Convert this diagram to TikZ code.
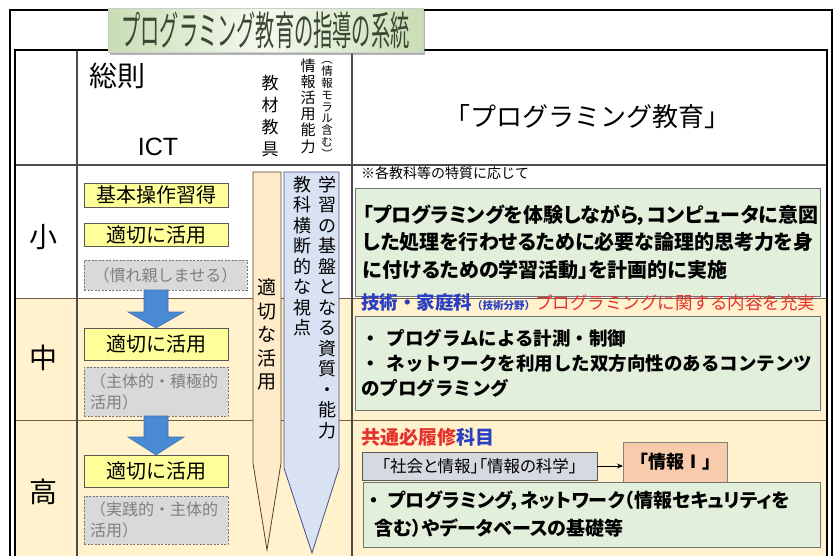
\documentclass[tikz,border=0pt]{standalone}
\usepackage{fontspec}
\setmainfont{Noto Sans CJK JP}
\newfontfamily\latinfont{Liberation Sans}
\newfontfamily\titlefont[FakeStretch=0.48]{Noto Sans CJK JP}
\newfontfamily\paltfont[RawFeature=+palt]{Noto Sans CJK JP}
\usetikzlibrary{shadows,calc,arrows.meta}
\definecolor{beige}{HTML}{FFF2CC}
\definecolor{ylw}{HTML}{FFFF99}
\definecolor{gfill}{HTML}{D9D9D9}
\definecolor{gtext}{HTML}{7F7F7F}
\definecolor{arrowblue}{HTML}{4A8AD4}
\definecolor{bannerbeige}{HTML}{FDEBC9}
\definecolor{bannerblue}{HTML}{D9E2F3}
\definecolor{grn}{HTML}{E2EFDA}
\definecolor{socgray}{HTML}{D6D9E0}
\definecolor{orng}{HTML}{F8CBAD}
\definecolor{kblue}{HTML}{2B3FC2}
\definecolor{kred}{HTML}{E5322D}
\definecolor{titletext}{HTML}{3A4733}
\definecolor{tgreen}{HTML}{C8DDB4}
\definecolor{tlight}{HTML}{F4F9EE}
\begin{document}
\begin{tikzpicture}[x=1pt,y=-1pt,
  every node/.style={inner sep=0pt,outer sep=0pt},
  vstack/.style={align=center,inner sep=0pt},
  frame/.style={draw=black,line width=2pt},
  hline/.style={draw=black!70,line width=1.1pt},
  rowline/.style={draw=black!45!brown!60!gray,line width=0.9pt},
  ybox/.style={draw=black!65,line width=0.8pt,fill=ylw,minimum width=144pt,font=\fontsize{20}{20}\selectfont},
  gbox/.style={draw=black!55,dash pattern=on 2pt off 1.5pt,line width=0.8pt,fill=gfill,text=gtext},
  grnbox/.style={draw=black!55,line width=0.8pt,fill=grn,align=left},
  bannerA/.style={draw=black!50!brown,line width=0.8pt,fill=bannerbeige},
  bannerB/.style={draw=black!50!blue!40!gray,line width=0.8pt,fill=bannerblue},
  blockarrow/.style={fill=arrowblue,draw=arrowblue!85!black,line width=0.6pt},
  socbox/.style={draw=black!65,line width=0.8pt,fill=socgray},
  orbox/.style={draw=black!50,line width=0.8pt,fill=orng},
  titlebox/.style={draw=black!20,line width=0.5pt,left color=tgreen,right color=tgreen,middle color=tlight,
     drop shadow={shadow xshift=2pt,shadow yshift=-2.5pt,opacity=0.6}},
  rowlabel/.style={font=\fontsize{28}{28}\selectfont}
]
\useasboundingbox (0,0) rectangle (833,555);
\begin{scope}
\clip (0,0) rectangle (833,555);
\fill[white] (0,0) rectangle (833,555);
\fill[beige] (15,298) rectangle (827,600);
\draw[rowline] (15,298) -- (827,298);
\draw[rowline] (15,420) -- (827,420);
\draw[hline] (15,165) -- (827,165);
\draw[hline] (77,50) -- (77,600);
\draw[hline] (352,50) -- (352,600);
\draw[frame] (15,50) rectangle (827,600);
\draw[frame] (10,10) rectangle (832,620);
\end{scope}

% title
\node[titlebox,minimum width=315pt,minimum height=44pt] (title) at (265.5,30)
  {\titlefont\fontsize{40}{40}\selectfont\color{titletext}プログラミング教育の指導の系統};

% header
\node (sosoku) at (117,76) {\fontsize{28}{28}\selectfont 総則};
\node (ict) at (158,147) {\latinfont\fontsize{25}{25}\selectfont ICT};
\node[vstack,font=\fontsize{17}{21.7}\selectfont] (kyozai) at (270,116) {教\\材\\教\\具};
\node[vstack,font=\fontsize{15}{16.2}\selectfont] (katsuyo) at (308,106) {情\\報\\活\\用\\能\\力};
\node[vstack,font=\fontsize{11.5}{11.8}\selectfont] (moral) at (327,110) {︵\\情\\報\\モ\\ラ\\ル\\含\\む\\︶};
\node (pe) at (587,117) {\fontsize{26}{26}\selectfont 「プログラミング教育」};

% row labels
\node[rowlabel] (sho) at (43,237) {小};
\node[rowlabel] (chu) at (43,358) {中};
\node[rowlabel] (ko) at (43,492) {高};

% banners
\draw[bannerA] (253,172) -- (281,172) -- (281,463) -- (267,550) -- (253,463) -- cycle;
\draw[bannerB] (284,172) -- (339,172) -- (339,468) -- (312,553) -- (284,468) -- cycle;
\node[vstack,anchor=north,font=\fontsize{19}{23.5}\selectfont] (tekisetsu) at (267,279) {適\\切\\な\\活\\用};
\node[vstack,anchor=north,font=\fontsize{18}{20.5}\selectfont] (kiban) at (327,176) {学\\習\\の\\基\\盤\\と\\な\\る\\資\\質\\・\\能\\力};
\node[vstack,anchor=north,font=\fontsize{18}{20.5}\selectfont] (ouda) at (302,176) {教\\科\\横\\断\\的\\な\\視\\点};

% left boxes
\node[ybox,minimum height=24pt] (y1a) at (156,195) {基本操作習得};
\node[ybox,minimum height=23pt] (y1b) at (156,234.5) {適切に活用};
\node[gbox,minimum width=163pt,minimum height=30pt,font=\fontsize{16}{16}\selectfont] (g1) at (165.5,275) {（慣れ親しませる）};
\node[ybox,minimum height=32pt] (y2) at (156,344) {適切に活用};
\node[gbox,minimum width=144pt,minimum height=49pt,text width=132pt,align=left,font=\fontsize{16}{21}\selectfont] (g2) at (156,391.5) {（主体的・積極的\\活用）};
\node[ybox,minimum height=32pt] (y3) at (156,471) {適切に活用};
\node[gbox,minimum width=144pt,minimum height=48pt,text width=132pt,align=left,font=\fontsize{16}{21}\selectfont] (g3) at (156,520) {（実践的・主体的\\活用）};

\draw[blockarrow] ($(y2.north |- g1.south)+(-12,0)$) -- ($(y2.north)+(-12,-16)$) -- ($(y2.north)+(-28,-16)$)
  -- (y2.north) -- ($(y2.north)+(28,-16)$) -- ($(y2.north)+(12,-16)$) -- ($(y2.north |- g1.south)+(12,0)$) -- cycle;
\draw[blockarrow] ($(y3.north |- g2.south)+(-12,0)$) -- ($(y3.north)+(-12,-18)$) -- ($(y3.north)+(-28,-18)$)
  -- (y3.north) -- ($(y3.north)+(28,-18)$) -- ($(y3.north)+(12,-18)$) -- ($(y3.north |- g2.south)+(12,0)$) -- cycle;

% right column - sho
\node[anchor=west] (note) at (361,173) {\fontsize{14}{14}\selectfont ※各教科等の特質に応じて};
\node[grnbox,anchor=north west,minimum width=465pt,minimum height=108pt,text width=449pt,inner xsep=8pt,
  font=\paltfont\bfseries\fontsize{20}{27.5}\selectfont] (gb1) at (355,188)
  {「プログラミングを体験しながら，コンピュータに意図\\した処理を行わせるために必要な論理的思考力を身\\に付けるための学習活動」を計画的に実施};

% chu
\node[anchor=west] (gika) at (361,303) {{\bfseries\fontsize{18.5}{18.5}\selectfont\color{kblue}技術・家庭科}{\bfseries\fontsize{10.5}{10.5}\selectfont\color{kblue}（技術分野）}{\fontsize{17.5}{17.5}\selectfont\color{kred}プログラミングに関する内容を充実}};
\node[grnbox,anchor=north west,minimum width=465pt,minimum height=94pt,text width=453pt,inner xsep=6pt,
  font=\bfseries\fontsize{18.5}{25}\selectfont] (gb2) at (355,316)
  {・\hspace{0.4em}プログラムによる計測・制御\\・\hspace{0.4em}ネットワークを利用した双方向性のあるコンテンツ\\のプログラミング};

% ko
\node[anchor=west] (kyotsu) at (361,437) {\bfseries\fontsize{19}{19}\selectfont{\color{kred}共通必履修}{\color{kblue}科目}};
\node[socbox,minimum width=235pt,minimum height=28pt] (soc) at (479.5,466) {\paltfont\fontsize{16.5}{16.5}\selectfont 「社会と情報」「情報の科学」};
\node[orbox,minimum width=104pt,minimum height=40pt] (joho) at (675,462) {\bfseries\fontsize{18}{18}\selectfont 「情報Ⅰ」};
\draw[-{Stealth[length=6pt,width=5pt]},line width=0.8pt] (soc.east) -- (soc.east -| joho.west);
\node[grnbox,anchor=north west,minimum width=457pt,minimum height=65pt,text width=445pt,inner xsep=6pt,
  font=\paltfont\bfseries\fontsize{19}{28}\selectfont] (gb3) at (363,482)
  {・\hspace{0.5em}プログラミング，ネットワーク（情報セキュリティを\\\hspace*{0.3em}含む）やデータベースの基礎等};
\end{tikzpicture}
\end{document}
